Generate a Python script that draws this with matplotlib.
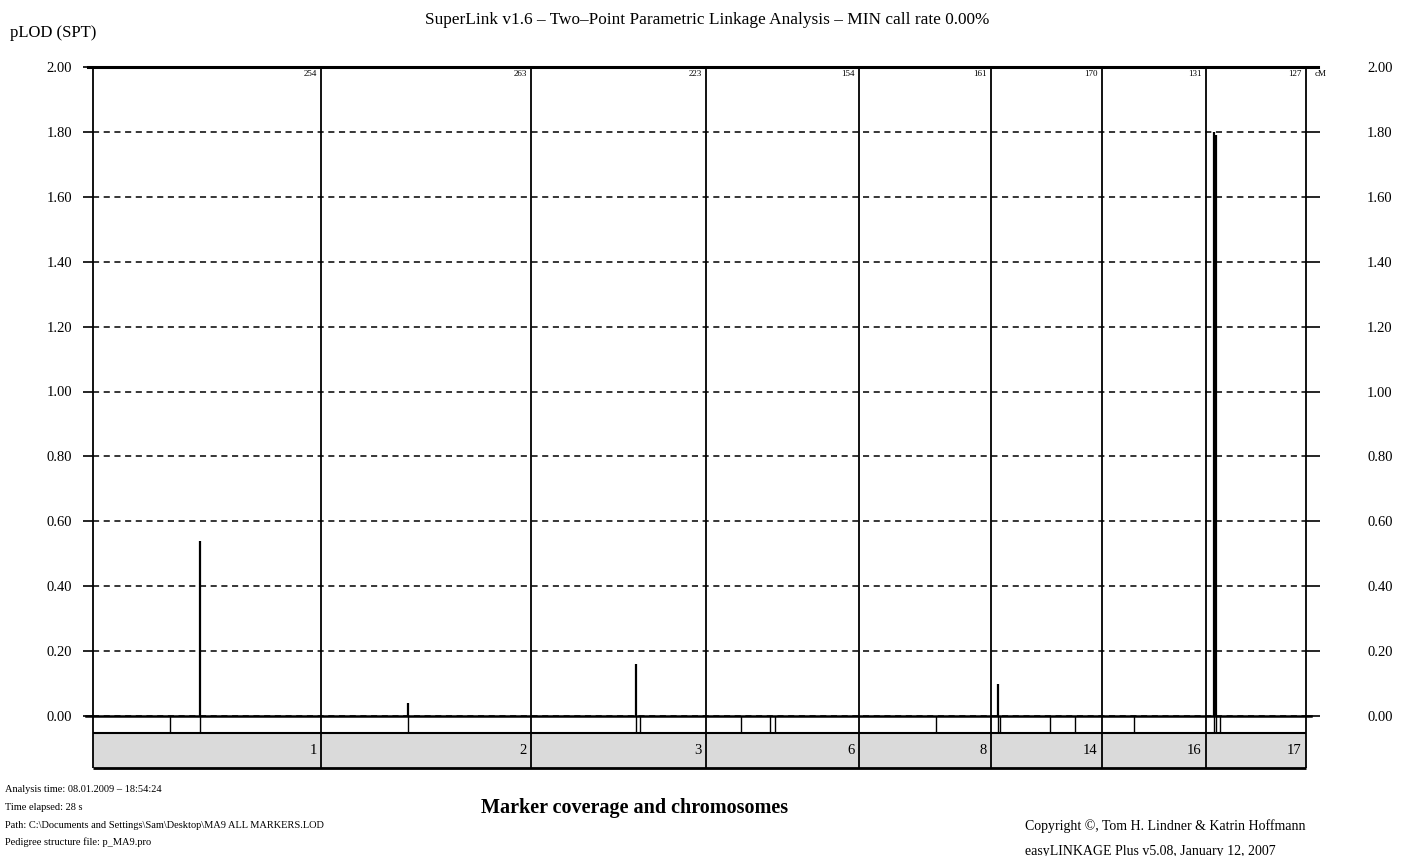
import matplotlib.pyplot as plt
import numpy as np

plt.rcParams['font.family'] = ['Liberation Serif', 'DejaVu Serif']

# chromosomes shown, their drawn widths on the map and the cM lengths printed at top
chromosomes = ['1', '2', '3', '6', '8', '14', '16', '17']
chrom_width = [228, 210, 175, 153, 132, 111, 104, 100]
chrom_cm = ['254', '263', '223', '154', '161', '170', '131', '127']

# markers: chromosome index, position inside chromosome, pLOD
marker_chrom = [0, 0, 1, 2, 2, 3, 3, 3, 4, 5, 5, 5, 5, 6, 7, 7, 7]
marker_pos = [77, 107, 87, 105, 109, 35, 64, 69, 77, 7, 9, 59, 84, 32, 8, 10, 14]
marker_plod = [0.00, 0.54, 0.04, 0.16, 0.00, 0.00, 0.00, 0.00, 0.00,
               0.10, 0.00, 0.00, 0.00, 0.00, 1.80, 1.79, 0.00]

yticks = [0.0, 0.2, 0.4, 0.6, 0.8, 1.0, 1.2, 1.4, 1.6, 1.8, 2.0]

title = 'SuperLink v1.6 \u2013 Two\u2013Point Parametric Linkage Analysis \u2013 MIN call rate 0.00%'
info_lines = ['Analysis time: 08.01.2009 \u2013 18:54:24',
              'Time elapsed: 28 s',
              'Path: C:\\Documents and Settings\\Sam\\Desktop\\MA9 ALL MARKERS.LOD',
              'Pedigree structure file: p_MA9.pro']
copy_lines = ['Copyright \u00a9, Tom H. Lindner & Katrin Hoffmann',
              'easyLINKAGE Plus v5.08, January 12, 2007']

W, H = 1404, 856
starts = np.concatenate([[0], np.cumsum(chrom_width)[:-1]])
ends = np.cumsum(chrom_width)
total = ends[-1]
mx = np.array([starts[c] + p for c, p in zip(marker_chrom, marker_pos)])
mlod = np.array(marker_plod)
bounds = np.concatenate([[0], ends])

fig = plt.figure(figsize=(W / 100, H / 100), dpi=100)
fig.patch.set_facecolor('white')

# main pLOD panel
ax = fig.add_axes([93 / W, 1 - 716 / H, 1213 / W, 649 / H])
ax.set_xlim(0, total)
ax.set_ylim(0, 2)
for s in ax.spines.values():
    s.set_visible(False)
ax.set_xticks([])
ax.set_yticks(yticks)
ax.set_yticklabels(['%.2f' % v for v in yticks])
ax.tick_params(axis='y', direction='out', length=7, width=1.2, pad=8, labelsize=10.5)
ax.grid(axis='y', color='black', linestyle=(0, (4, 3)), linewidth=1.1)
ax.set_axisbelow(True)

ax2 = ax.twinx()
ax2.set_ylim(0, 2)
for s in ax2.spines.values():
    s.set_visible(False)
ax2.set_yticks(yticks)
ax2.set_yticklabels(['%.2f' % v for v in yticks])
ax2.tick_params(axis='y', direction='out', length=10, width=1.2, pad=34, labelsize=10.5)

# frame lines
ax.plot([-5, total + 12], [2, 2], color='black', lw=2.2, clip_on=False, zorder=3)
ax.plot([-7, total + 5], [0, 0], color='black', lw=1.8, clip_on=False, zorder=3)
ax.vlines(bounds, 0, 2, color='black', lw=1.3, zorder=3, clip_on=False)

# peaks
keep = mlod > 0
ax.vlines(mx[keep], 0, mlod[keep], color='black', lw=1.6, zorder=4)

# cM lengths at the top of each chromosome
for e, cm in zip(ends, chrom_cm):
    ax.annotate(cm, (e, 2), xytext=(-3, -2), textcoords='offset points',
                ha='right', va='top', fontsize=6.5)
ax.annotate('cM', (total, 2), xytext=(6, -2), textcoords='offset points',
            ha='left', va='top', fontsize=6.5)

# marker / chromosome band
bx = fig.add_axes([93 / W, 1 - 768 / H, 1213 / W, 52 / H])
bx.set_xlim(0, total)
bx.set_ylim(52, 0)
bx.axis('off')
bx.axhspan(17, 52, color='#dadada', zorder=1)
bx.vlines(mx, 0, 17, color='black', lw=1.0, zorder=3)
bx.vlines(bounds, 0, 52, color='black', lw=1.3, zorder=3, clip_on=False)
bx.hlines([17], 0, total, color='black', lw=1.5, zorder=3)
bx.hlines([52], 0, total, color='black', lw=2.0, zorder=3, clip_on=False)
for e, name in zip(ends, chromosomes):
    bx.annotate(name, (e, 34), xytext=(-3, 0), textcoords='offset points',
                ha='right', va='center', fontsize=10.5, zorder=4)

# texts
fig.text(707 / W, 1 - 20 / H, title, ha='center', va='center', fontsize=12.4)
fig.text(10 / W, 1 - 33 / H, 'pLOD (SPT)', ha='left', va='center', fontsize=12)
fig.text(635 / W, 1 - 808 / H, 'Marker coverage and chromosomes', ha='center',
         va='center', fontsize=14.5, fontweight='bold')
for i, line in enumerate(info_lines):
    fig.text(5 / W, 1 - (790 + 17.5 * i) / H, line, ha='left', va='center', fontsize=7.5)
for i, line in enumerate(copy_lines):
    fig.text(1025 / W, 1 - (826 + 25 * i) / H, line, ha='left', va='center', fontsize=10)

fig.savefig('out.png', dpi=100)
